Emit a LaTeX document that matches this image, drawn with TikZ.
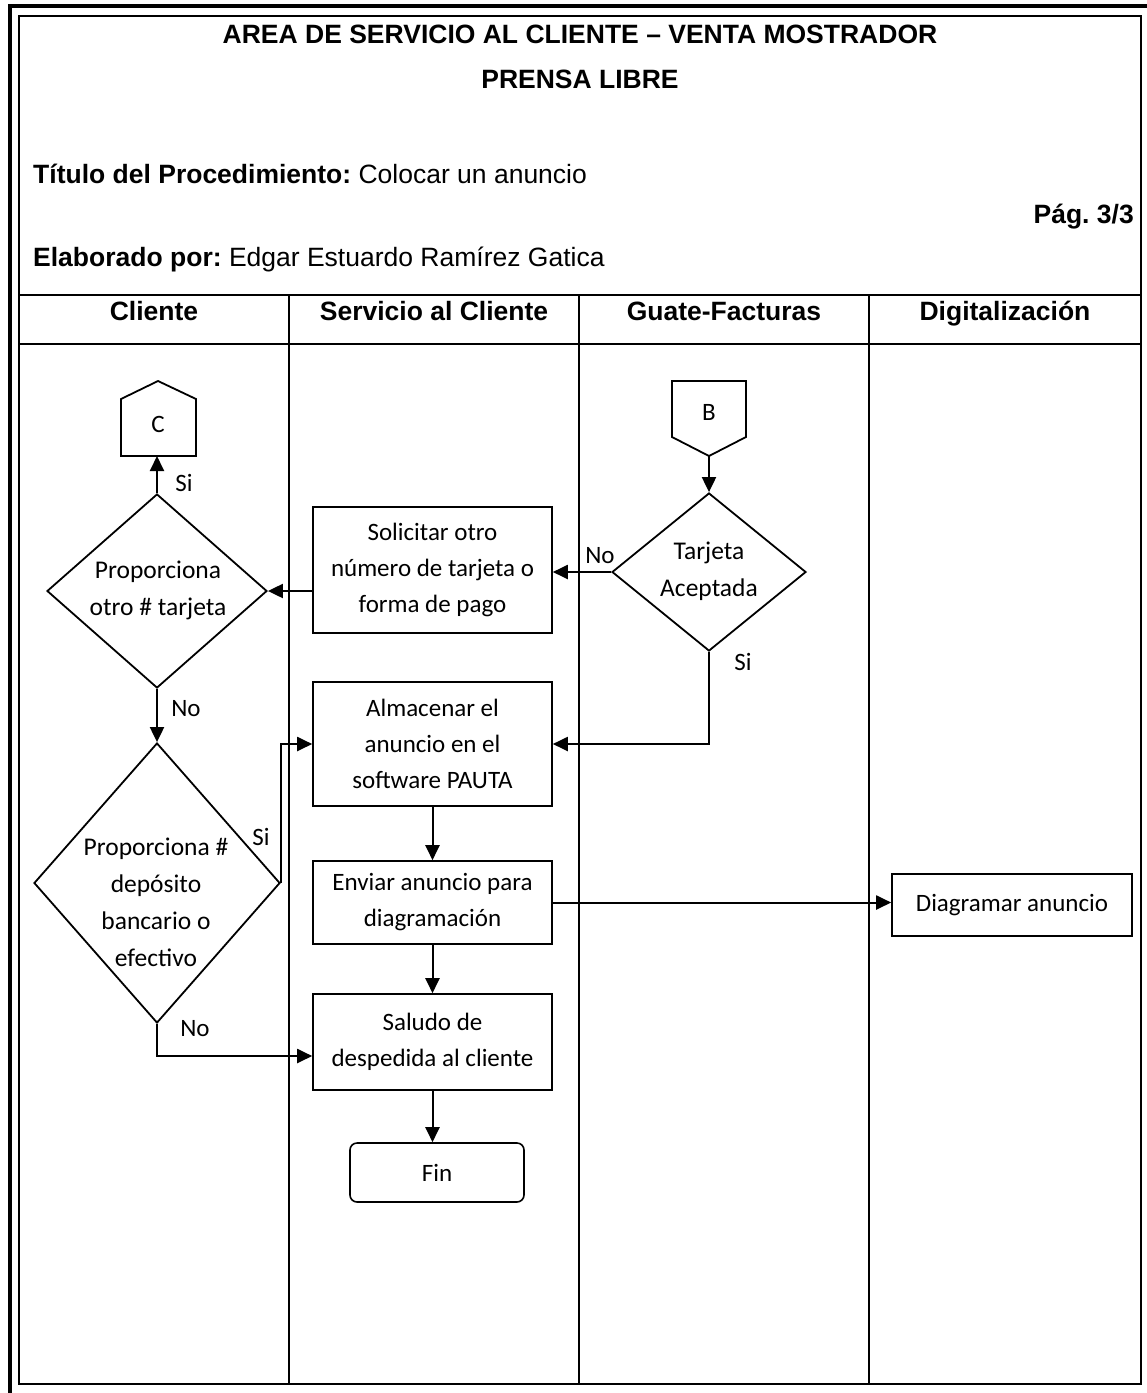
\documentclass[tikz,border=0pt]{standalone}
\usepackage{fontspec}
\setmainfont{Carlito}
\newfontfamily\arialfont{Liberation Sans}
\usetikzlibrary{shapes.geometric, arrows.meta}
\frenchspacing

\begin{document}
\begin{tikzpicture}[x=1pt, y=-1pt,
  every node/.style={font=\fontsize{25}{36}\selectfont, align=center},
  caja/.style={draw, line width=1.6pt, minimum width=239pt, inner sep=0pt},
  decision/.style={diamond, draw, line width=1.8pt, inner sep=0pt},
  texto/.style={font=\fontsize{25.5}{37}\selectfont, inner sep=0pt},
  etiqueta/.style={font=\fontsize{25}{28}\selectfont, inner sep=0pt},
  encabezado/.style={font=\arialfont\bfseries\fontsize{26.5}{30}\selectfont, inner sep=0pt},
  flecha/.style={line width=2pt, -{Triangle[length=15pt, width=14pt]}}]
  \useasboundingbox (0,0) rectangle (1147,1393);

  % Marco doble y carriles
  \draw[line width=4pt] (10,1393) -- (10,6) -- (1147,6);
  \draw[line width=2pt] (19,16) rectangle (1141,1384);
  \draw[line width=2pt] (19,295) -- (1141,295);
  \draw[line width=2pt] (19,344) -- (1141,344);
  \foreach \x in {289,579,869}
    \draw[line width=2pt] (\x,295) -- (\x,1384);

  % Encabezado
  \node[encabezado, anchor=base] (area) at (580,43) {AREA DE SERVICIO AL CLIENTE – VENTA MOSTRADOR};
  \node[encabezado, anchor=base] (prensa) at (580,88) {PRENSA LIBRE};
  \node[encabezado, anchor=base west] (proc) at (33,183) {Título del Procedimiento: {\mdseries Colocar un anuncio}};
  \node[encabezado, anchor=base east] (pag) at (1134,223) {Pág. 3/3};
  \node[encabezado, anchor=base west] (autor) at (33,266) {Elaborado por: {\mdseries Edgar Estuardo Ramírez Gatica}};
  \node[encabezado, anchor=base] (cliente) at (154,320) {Cliente};
  \node[encabezado, anchor=base] (servicio) at (434,320) {Servicio al Cliente};
  \node[encabezado, anchor=base] (guate) at (724,320) {Guate-Facturas};
  \node[encabezado, anchor=base] (digital) at (1005,320) {Digitalización};

  % Conectores de pagina
  \node (C) at (158,424) {C};
  \coordinate (Cbase) at (158,456);
  \draw[line width=1.8pt] (121,456) -- (121,399) -- (158,381) -- (196,399) -- (196,456) -- cycle;
  \node (B) at (709,412) {B};
  \coordinate (Bpunta) at (709,456);
  \draw[line width=1.8pt] (672,381) -- (746,381) -- (746,437) -- (Bpunta) -- (672,437) -- cycle;

  % Decisiones
  \node[decision, minimum width=194pt, minimum height=158pt] (tarjeta) at (709,572) {};
  \node[texto] (tarjetatxt) at (709,571) {Tarjeta\\Aceptada};
  \node[decision, minimum width=220pt, minimum height=194pt] (otra) at (157,591) {};
  \node[texto] (otratxt) at (158,590) {Proporciona\\otro \# tarjeta};
  \node[decision, minimum width=246pt, minimum height=280pt] (deposito) at (157,883) {};
  \node[texto] (depositotxt) at (156,902) {Proporciona \#\\depósito\\bancario o\\efectivo};

  % Procesos
  \node[caja, minimum height=126pt] (solicitar) at (432.5,570) {Solicitar otro\\número de tarjeta o\\forma de pago};
  \node[caja, minimum height=124pt] (almacenar) at (432.5,744) {Almacenar el\\anuncio en el\\software PAUTA};
  \node[caja, minimum height=83pt] (enviar) at (432.5,902.5) {Enviar anuncio para\\diagramación};
  \node[caja, minimum height=96pt] (saludo) at (432.5,1042) {Saludo de\\despedida al cliente};
  \node[caja, minimum width=240pt, minimum height=62pt] (diagramar) at (1012,905) {Diagramar anuncio};
  \node[draw, line width=1.6pt, rounded corners=7pt, minimum width=174pt, minimum height=59pt] (fin) at (437,1172.5) {Fin};

  % Flujo
  \draw[flecha] (Bpunta) -- (tarjeta.north);
  \draw[flecha] (tarjeta.west) -- (tarjeta.west -| solicitar.east);
  \draw[flecha] (tarjeta.south) |- (almacenar.east);
  \draw[flecha] (solicitar.west |- otra) -- (otra.east);
  \draw[flecha] (otra.north) -- (otra.north |- Cbase);
  \draw[flecha] (otra.south) -- (deposito.north);
  \draw[flecha] (deposito.east) |- (almacenar.west);
  \draw[flecha] (deposito.south) |- ([yshift=-14pt]saludo.west);
  \draw[flecha] (almacenar.south) -- (enviar.north);
  \draw[flecha] (enviar.south) -- (saludo.north);
  \draw[flecha] (saludo.south) -- (saludo.south |- fin.north);
  \draw[flecha] (enviar.east) -- (enviar.east -| diagramar.west);

  % Etiquetas Si / No
  \node[etiqueta] (si1) at (184,483) {Si};
  \node[etiqueta] (no1) at (600,556) {No};
  \node[etiqueta] (si2) at (743,662) {Si};
  \node[etiqueta] (no2) at (186,709) {No};
  \node[etiqueta] (si3) at (261,837) {Si};
  \node[etiqueta] (no3) at (195,1029) {No};
\end{tikzpicture}
\end{document}
